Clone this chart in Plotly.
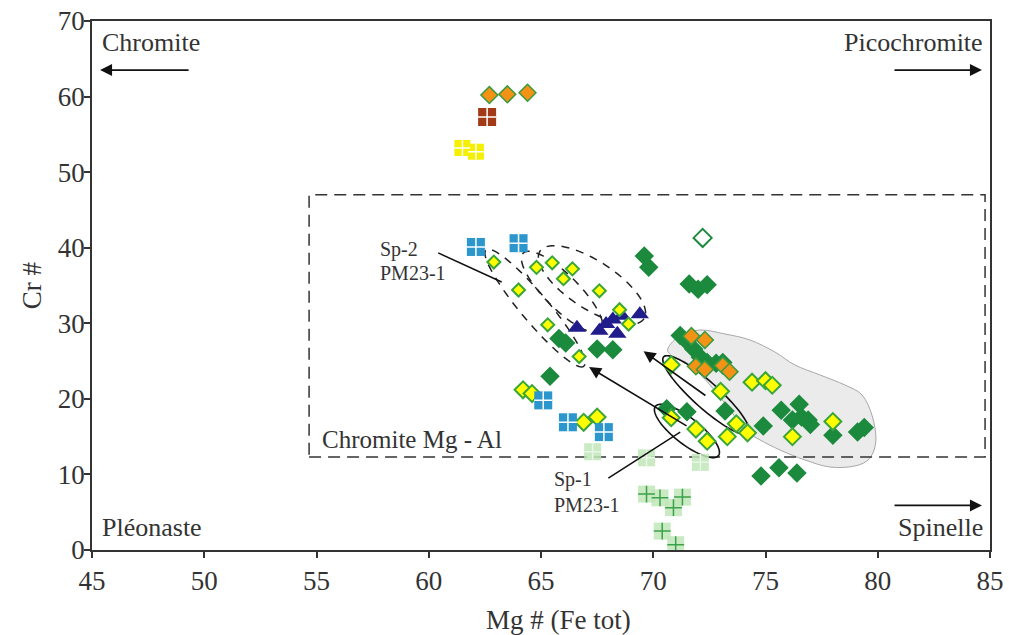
import numpy as np
import plotly.graph_objects as go

# ---------------- data (Mg#, Cr#) ----------------
green_x = [69.6, 69.8, 71.6, 72.0, 72.4, 65.8, 66.1, 67.5, 68.2, 65.4,
           71.2, 71.5, 71.8, 72.1, 72.4, 72.8, 73.1, 70.6, 71.5, 73.2, 74.9,
           75.7, 76.5, 76.6, 76.9, 76.2, 77.0, 78.0, 79.1, 79.4, 74.8, 75.6, 76.4]
green_y = [38.9, 37.4, 35.2, 34.5, 35.1, 28.0, 27.4, 26.6, 26.5, 23.0,
           28.4, 27.6, 26.6, 25.5, 24.8, 24.7, 24.8, 18.7, 18.3, 18.4, 16.4,
           18.5, 19.3, 17.6, 17.2, 17.2, 16.6, 15.2, 15.6, 16.2, 9.8, 10.9, 10.2]

hollow_x = [72.2]
hollow_y = [41.3]

triangle_x = [66.6, 67.6, 68.2, 68.6, 69.4, 68.4, 67.9]
triangle_y = [29.4, 29.0, 30.5, 31.0, 31.2, 28.6, 29.9]

orange_x = [62.7, 63.5, 64.4, 72.3, 71.7, 71.9, 72.3, 73.1, 73.4]
orange_y = [60.2, 60.3, 60.5, 27.8, 28.3, 24.3, 23.9, 24.4, 23.6]

yellow_small_x = [62.9, 64.8, 65.5, 66.4, 66.0, 64.0, 67.6, 65.3, 68.5, 68.9, 66.7]
yellow_small_y = [38.1, 37.4, 38.0, 37.2, 35.9, 34.4, 34.3, 29.8, 31.8, 29.9, 25.6]

yellow_large_x = [64.2, 64.6, 66.9, 67.5, 70.8, 70.8, 71.9, 72.4, 73.0, 73.7,
                  74.2, 73.3, 74.4, 75.0, 75.3, 76.2, 78.0]
yellow_large_y = [21.2, 20.7, 16.9, 17.6, 24.5, 17.5, 16.0, 14.4, 21.0, 16.7,
                  15.5, 15.0, 22.2, 22.4, 21.8, 15.0, 17.0]

blue_sq_x = [62.1, 64.0, 65.1, 66.2, 67.8]
blue_sq_y = [40.1, 40.6, 19.8, 16.9, 15.6]

brown_sq_x = [62.6]
brown_sq_y = [57.3]

yellow_sq_x = [61.5, 62.1]
yellow_sq_y = [53.2, 52.7]

light_sq_x = [67.3, 69.7, 72.1, 69.7, 70.3, 71.3, 70.9, 70.4, 71.0]
light_sq_y = [13.0, 12.2, 11.6, 7.4, 6.9, 7.0, 5.6, 2.5, 0.7]

x_ticks = [45, 50, 55, 60, 65, 70, 75, 80, 85]
y_ticks = [0, 10, 20, 30, 40, 50, 60, 70]

# ---------------- geometry helpers ----------------
X0, X1, Y0, Y1 = 45, 85, 0, 70
SX = 898 / (X1 - X0)   # px per Mg# unit
SY = 529 / (Y1 - Y0)   # px per Cr# unit
FONT = "Liberation Serif"
INK = "#333333"


def ellipse_path(cx, cy, a_px, b_px, ang_deg, n=90):
    t = np.linspace(0, 2 * np.pi, n, endpoint=False)
    th = np.radians(ang_deg)
    dx = a_px * np.cos(t) * np.cos(th) - b_px * np.sin(t) * np.sin(th)
    dy = a_px * np.cos(t) * np.sin(th) + b_px * np.sin(t) * np.cos(th)
    xs = cx + dx / SX
    ys = cy - dy / SY
    return "M " + " L ".join(f"{x:.4f},{y:.4f}" for x, y in zip(xs, ys)) + " Z"


def smooth_closed(pts):
    p = np.array(pts, dtype=float)
    n = len(p)
    d = f"M {p[0][0]:.4f},{p[0][1]:.4f}"
    for i in range(n):
        p0, p1, p2, p3 = p[i - 1], p[i], p[(i + 1) % n], p[(i + 2) % n]
        c1 = p1 + (p2 - p0) / 6
        c2 = p2 - (p3 - p1) / 6
        d += f" C {c1[0]:.4f},{c1[1]:.4f} {c2[0]:.4f},{c2[1]:.4f} {p2[0]:.4f},{p2[1]:.4f}"
    return d + " Z"


blob = [(70.66, 26.73), (71.19, 28.32), (72.08, 29.11), (73.20, 28.58), (74.31, 27.79),
        (75.42, 26.20), (76.31, 24.48), (77.43, 23.16), (78.54, 21.83), (79.30, 20.51),
        (79.74, 17.86), (79.92, 14.56), (79.65, 12.17), (78.99, 11.12), (77.87, 10.98),
        (76.76, 11.91), (75.65, 13.23), (74.76, 14.56), (74.09, 15.88), (73.42, 18.53),
        (72.53, 21.83), (71.64, 24.48), (70.84, 25.67)]

fig = go.Figure()

# ---------------- shapes (below data) ----------------
shapes = [
    dict(type="path", path=smooth_closed(blob), xref="x", yref="y", layer="below",
         fillcolor="#ebebeb", line=dict(color="#a8a8a8", width=1)),
    dict(type="rect", x0=54.67, x1=84.78, y0=12.3, y1=47.0, xref="x", yref="y",
         layer="below", line=dict(color=INK, width=1.5, dash="12px,7px")),
    # solid ellipses
    dict(type="path", path=ellipse_path(72.35, 20.51, 57, 13, 42), xref="x", yref="y",
         layer="below", line=dict(color="#111111", width=1.6)),
    dict(type="path", path=ellipse_path(71.50, 15.75, 40, 13, 38), xref="x", yref="y",
         layer="below", line=dict(color="#111111", width=1.6)),
    # dashed ellipses (Sp-2)
    dict(type="path", path=ellipse_path(64.73, 32.02, 76, 14, 50), xref="x", yref="y",
         layer="below", line=dict(color="#222222", width=1.5, dash="8px,7px")),
    dict(type="path", path=ellipse_path(65.94, 34.14, 55, 17, 45), xref="x", yref="y",
         layer="below", line=dict(color="#222222", width=1.5, dash="8px,7px")),
    dict(type="path", path=ellipse_path(67.27, 35.07, 62, 24, 33), xref="x", yref="y",
         layer="below", line=dict(color="#222222", width=1.5, dash="8px,7px")),
    # label leader lines
    dict(type="line", x0=60.42, y0=39.31, x1=63.25, y1=35.47, xref="x", yref="y",
         line=dict(color="#111111", width=1.5)),
    dict(type="line", x0=68.0, y0=9.5, x1=71.2, y1=15.6, xref="x", yref="y",
         line=dict(color="#111111", width=1.5)),
]

# ---------------- markers ----------------
fig.add_trace(go.Scatter(x=green_x, y=green_y, mode="markers",
                         marker=dict(symbol="diamond", size=15, color="#1b8a3c",
                                     line=dict(width=0))))
fig.add_trace(go.Scatter(x=hollow_x, y=hollow_y, mode="markers",
                         marker=dict(symbol="diamond", size=14, color="white",
                                     line=dict(width=2, color="#1b8a3c"))))
fig.add_trace(go.Scatter(x=triangle_x, y=triangle_y, mode="markers",
                         marker=dict(symbol="triangle-up", size=16, color="#211c8c",
                                     line=dict(width=0))))
fig.add_trace(go.Scatter(x=orange_x, y=orange_y, mode="markers",
                         marker=dict(symbol="diamond", size=13, color="#f39214",
                                     line=dict(width=1.5, color="#3a9a40"))))
fig.add_trace(go.Scatter(x=yellow_small_x, y=yellow_small_y, mode="markers",
                         marker=dict(symbol="diamond", size=10, color="#ffff00",
                                     line=dict(width=2, color="#3aa53a"))))
fig.add_trace(go.Scatter(x=yellow_large_x, y=yellow_large_y, mode="markers",
                         marker=dict(symbol="diamond", size=13, color="#ffff00",
                                     line=dict(width=2, color="#3aa53a"))))
fig.add_trace(go.Scatter(x=light_sq_x, y=light_sq_y, mode="markers",
                         marker=dict(symbol="square", size=17, color="#bfe6b8",
                                     opacity=0.85, line=dict(width=0))))
fig.add_trace(go.Scatter(x=light_sq_x, y=light_sq_y, mode="markers",
                         marker=dict(symbol="cross-thin", size=12,
                                     line=dict(width=1.5, color=["#e8f6e6", "#e8f6e6", "#e8f6e6",
                                                                 "#3aa34a", "#3aa34a", "#3aa34a",
                                                                 "#3aa34a", "#3aa34a", "#3aa34a"]))))
for xs, ys, col, sz in [(blue_sq_x, blue_sq_y, "#2b97cc", 18),
                        (brown_sq_x, brown_sq_y, "#a23a17", 18),
                        (yellow_sq_x, yellow_sq_y, "#f4f000", 16)]:
    fig.add_trace(go.Scatter(x=xs, y=ys, mode="markers",
                             marker=dict(symbol="square", size=sz, color=col,
                                         line=dict(width=0))))
    fig.add_trace(go.Scatter(x=xs, y=ys, mode="markers",
                             marker=dict(symbol="cross-thin", size=sz - 5,
                                         line=dict(width=1.5, color="white"))))

# ---------------- annotations ----------------
big = dict(family=FONT, size=26, color=INK)
small = dict(family=FONT, size=20, color=INK)
ann = [
    dict(x=45.36, y=67.2, text="Chromite", xanchor="left", yanchor="middle", font=big),
    dict(x=84.78, y=67.2, text="Picochromite", xanchor="right", yanchor="middle", font=big),
    dict(x=45.36, y=3.0, text="Pléonaste", xanchor="left", yanchor="middle", font=big),
    dict(x=84.78, y=3.0, text="Spinelle", xanchor="right", yanchor="middle", font=big),
    dict(x=55.16, y=14.6, text="Chromite Mg - Al", xanchor="left", yanchor="middle",
         font=dict(family=FONT, size=25, color=INK)),
    dict(x=57.74, y=39.8, text="Sp-2", xanchor="left", yanchor="middle", font=small),
    dict(x=57.74, y=36.6, text="PM23-1", xanchor="left", yanchor="middle", font=small),
    dict(x=65.50, y=9.3, text="Sp-1", xanchor="left", yanchor="middle", font=small),
    dict(x=65.50, y=5.95, text="PM23-1", xanchor="left", yanchor="middle", font=small),
]
for a in ann:
    a.update(showarrow=False, xref="x", yref="y")
# x axis title (placed slightly right of centre, as in the reference)
ann.append(dict(x=0.52, y=-0.132, xref="paper", yref="paper", text="Mg # (Fe tot)",
                showarrow=False, xanchor="center", yanchor="middle",
                font=dict(family=FONT, size=27, color=INK)))
arrow_style = dict(showarrow=True, arrowhead=2, arrowsize=1.5, arrowwidth=1.6,
                   arrowcolor="#111111", text="", xref="x", yref="y", axref="x", ayref="y")
arrows = [
    dict(x=45.36, y=63.5, ax=49.37, ay=63.5),
    dict(x=84.64, y=63.5, ax=80.68, ay=63.5),
    dict(x=84.64, y=5.9, ax=80.68, ay=5.9),
    dict(x=67.14, y=24.2, ax=71.55, ay=16.3),
    dict(x=69.57, y=26.3, ax=72.39, ay=20.3),
]
for a in arrows:
    a.update(arrow_style)
    ann.append(a)

TICKF = dict(family=FONT, size=27, color=INK)
fig.update_layout(
    width=1009, height=635,
    margin=dict(l=92, r=19, t=21, b=85, autoexpand=False),
    paper_bgcolor="white", plot_bgcolor="white",
    showlegend=False,
    shapes=shapes, annotations=ann,
    font=dict(family=FONT, color=INK),
    xaxis=dict(range=[X0, X1], tickvals=x_ticks, ticks="outside", ticklen=6, tickwidth=1.5,
               tickcolor=INK, showline=True, linecolor=INK, linewidth=1.5, mirror=True,
               showgrid=False, zeroline=False, automargin=False, tickfont=TICKF),
    yaxis=dict(range=[Y0, Y1], tickvals=y_ticks, ticks="outside", ticklen=6, tickwidth=1.5,
               tickcolor=INK, showline=True, linecolor=INK, linewidth=1.5, mirror=True,
               showgrid=False, zeroline=False, automargin=False, tickfont=TICKF,
               ticklabelstandoff=-6,
               title=dict(text="Cr #", font=dict(family=FONT, size=27, color=INK),
                          standoff=8)),
)

fig.write_html("out.html", config={"displayModeBar": False},
               post_script="document.body.style.margin='0';document.body.style.padding='0';")
